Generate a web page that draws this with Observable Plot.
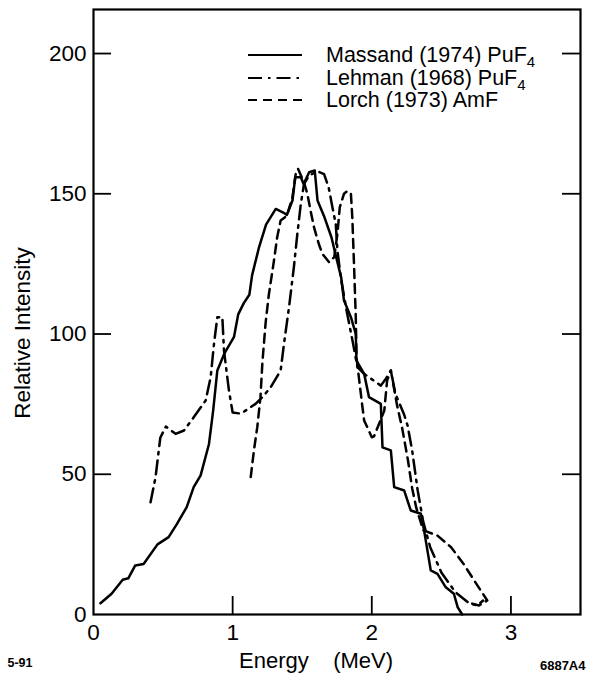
<!DOCTYPE html>
<html>
<head>
<meta charset="utf-8">
<script src="https://cdn.jsdelivr.net/npm/d3@7"></script>
<script src="https://cdn.jsdelivr.net/npm/@observablehq/plot@0.6"></script>
<style>
  html, body { margin: 0; padding: 0; background: #fff; }
  #wrap { position: relative; width: 589px; height: 688px; font-family: "Liberation Sans", Arial, Helvetica, sans-serif; }
  svg text { white-space: pre; }
  .leg { position: absolute; left: 247px; height: 24px; display: flex; align-items: center; font-size: 21.5px; color: #000; white-space: nowrap; }
  .leg svg { width: 56px; height: 10px; margin-right: 23px; }
  .leg sub { font-size: 15px; vertical-align: -5px; line-height: 0; }
</style>
</head>
<body>
<div id="wrap"></div>
<script>
// ---- data ----
const xTicks = [0, 1, 2, 3];
const yTicks = [0, 50, 100, 150, 200];
const innerYTicks = [50, 100, 150, 200];
const innerXTicks = [1, 2, 3];

const seriesNames = ["Massand (1974) PuF", "Lehman (1968) PuF", "Lorch (1973) AmF"];
const seriesSubs = ["4", "4", ""];

const massandE = [0.05,0.13,0.21,0.25,0.30,0.36,0.46,0.54,0.60,0.67,0.72,0.77,0.83,0.86,0.89,0.94,1.01,1.04,1.08,1.12,1.14,1.19,1.24,1.31,1.36,1.39,1.43,1.45,1.49,1.51,1.55,1.59,1.61,1.66,1.71,1.75,1.78,1.80,1.85,1.885,1.89,1.945,1.98,2.065,2.077,2.137,2.161,2.233,2.28,2.353,2.376,2.424,2.472,2.532,2.59,2.617,2.65];
const massandI = [4,7.4,12.4,12.9,17.5,18,25,27.6,32.3,38.3,45.4,49.6,60.8,72.7,87,93,99,107,111,114,121,131,139,144.6,143.4,142.5,147.6,155.9,155.9,153.5,157.7,158.3,147.6,141.6,134.5,126.2,120.2,112,106,100,90.5,85.8,77.5,75.1,59.6,58.5,45.4,44.2,37.1,35.9,29.9,15.7,14.5,9.7,7.4,2.6,0];

const lehmanE = [0.41,0.446,0.48,0.52,0.59,0.65,0.72,0.806,0.842,0.866,0.89,0.926,0.938,0.973,1.0,1.06,1.165,1.214,1.273,1.345,1.369,1.405,1.44,1.465,1.49,1.513,1.55,1.61,1.657,1.69,1.717,1.741,1.753,1.777,1.82,1.86,1.897,1.945,2.065,2.1,2.137,2.17,2.23,2.257,2.29,2.33,2.37,2.42,2.5,2.6,2.7,2.76,2.8];
const lehmanI = [40,49,63,67,64.4,65.6,70.3,76.3,84.6,96.5,106,106,94,80,72,71.6,75.1,77.5,81,87,96.5,109.5,123.8,135.7,146.4,153.5,156.5,158,157,152.3,145.2,139.3,129.8,120.2,108,98,88.2,85.8,81.6,84,87,78.7,71.6,67.4,58.5,44.2,33,24,15,8,4,3.2,5];

const lorchE = [1.13,1.153,1.177,1.2,1.214,1.237,1.26,1.297,1.32,1.345,1.39,1.43,1.453,1.47,1.513,1.537,1.56,1.585,1.62,1.645,1.693,1.73,1.753,1.77,1.8,1.825,1.85,1.86,1.873,1.885,1.89,1.91,1.933,1.945,2.0,2.016,2.09,2.11,2.137,2.18,2.22,2.26,2.29,2.32,2.37,2.47,2.57,2.66,2.76,2.83,2.77,2.72];
const lorchI = [49,58.5,66.8,77.5,90,104,114,126.2,134.5,140.5,142.2,148.8,157,158.9,154,150,144,138,132,128.6,125.6,127.4,135.7,145.2,150,151,150,141.6,123.8,106,91.7,83.4,73.9,69.2,63.2,63.5,72.7,83.4,87,75,66,55,45,38,30,28.2,24,18,10.3,5,3.2,3.9];

const xLabel = "Energy    (MeV)";
const yLabel = "Relative Intensity";
const leftNote = "5-91";
const rightNote = "6887A4";

// ---- build ----
const toRows = (E, I) => E.map((e, i) => ({e, v: I[i]}));
const massand = toRows(massandE, massandI);
const lehman = toRows(lehmanE, lehmanI);
const lorch = toRows(lorchE, lorchI);

const W = 589, H = 688;
const mL = 93, mR = 9, mT = 9, mB = 74;
const plotW = W - mL - mR, plotH = H - mT - mB;
const tickLen = 18;
const lw = 2.5;
const dashDot = "14,6,2.5,6";
const dashed = "9,6";
const fs = 22.5;

const chart = Plot.plot({
  width: W, height: H,
  marginLeft: mL, marginRight: mR, marginTop: mT, marginBottom: mB,
  style: {fontFamily: '"Liberation Sans", Arial, Helvetica, sans-serif', fontSize: fs + "px", color: "#000", background: "#fff"},
  x: {domain: [0, 3.5], ticks: xTicks},
  y: {domain: [0, 215.7], ticks: yTicks},
  marks: [
    Plot.axisX({ticks: xTicks, tickFormat: "d", tickSize: 0, tickPadding: 10, label: null, fontSize: fs}),
    Plot.axisY({ticks: yTicks, tickFormat: "d", tickSize: 0, tickPadding: 7, label: null, fontSize: fs}),
    Plot.tickY(innerYTicks, {y: d => d, insetRight: plotW - tickLen, stroke: "#000", strokeWidth: 1.8}),
    Plot.tickY(innerYTicks, {y: d => d, insetLeft: plotW - tickLen, stroke: "#000", strokeWidth: 1.8}),
    Plot.tickX(innerXTicks, {x: d => d, insetTop: plotH - tickLen, stroke: "#000", strokeWidth: 1.8}),
    Plot.frame({stroke: "#000", strokeWidth: 2.2}),
    Plot.line(massand, {x: "e", y: "v", stroke: "#000", strokeWidth: lw, strokeLinejoin: "round", strokeLinecap: "round"}),
    Plot.line(lehman, {x: "e", y: "v", stroke: "#000", strokeWidth: lw, strokeDasharray: dashDot, strokeLinejoin: "round"}),
    Plot.line(lorch, {x: "e", y: "v", stroke: "#000", strokeWidth: lw, strokeDasharray: dashed, strokeLinejoin: "round"}),
    Plot.text([yLabel], {frameAnchor: "left", textAnchor: "middle", rotate: -90, dx: -71, dy: 21, fontSize: 22.5, fill: "#000"}),
    Plot.text([xLabel], {frameAnchor: "bottom", dx: -21, dy: 53, fontSize: 22, fill: "#000"}),
    Plot.text([leftNote], {frameAnchor: "bottom-left", textAnchor: "start", dx: -86, dy: 52, fontSize: 12.5, fontWeight: "bold", fill: "#000"}),
    Plot.text([rightNote], {frameAnchor: "bottom-right", textAnchor: "end", dx: 5, dy: 55, fontSize: 13, fontWeight: "bold", fill: "#000"})
  ]
});

const wrap = document.getElementById("wrap");
wrap.appendChild(chart);

// legend (inside plot, top right)
const legDash = [null, dashDot, dashed];
const legTop = [43, 66, 88];
seriesNames.forEach((name, i) => {
  const row = document.createElement("div");
  row.className = "leg";
  row.style.top = legTop[i] + "px";
  const ns = "http://www.w3.org/2000/svg";
  const s = document.createElementNS(ns, "svg");
  s.setAttribute("viewBox", "0 0 56 10");
  const ln = document.createElementNS(ns, "line");
  ln.setAttribute("x1", 1); ln.setAttribute("x2", 55);
  ln.setAttribute("y1", 5); ln.setAttribute("y2", 5);
  ln.setAttribute("stroke", "#000");
  ln.setAttribute("stroke-width", 2);
  if (legDash[i]) ln.setAttribute("stroke-dasharray", legDash[i]);
  s.appendChild(ln);
  row.appendChild(s);
  const t = document.createElement("span");
  t.textContent = name;
  if (seriesSubs[i]) {
    const sb = document.createElement("sub");
    sb.textContent = seriesSubs[i];
    t.appendChild(sb);
  }
  row.appendChild(t);
  wrap.appendChild(row);
});
</script>
</body>
</html>
